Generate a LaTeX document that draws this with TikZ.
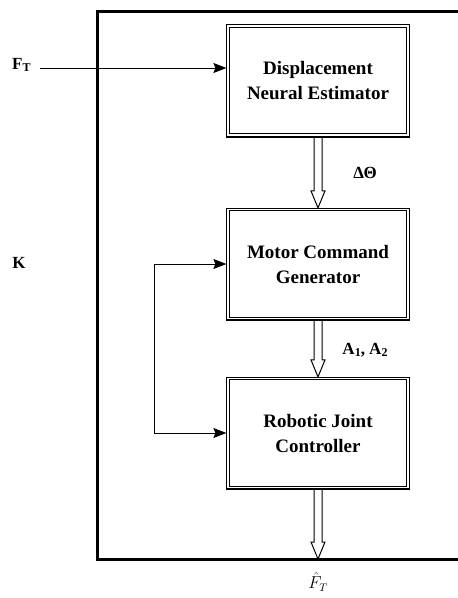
\documentclass[tikz,border=0pt]{standalone}
\usepackage{fontspec}
\setmainfont{Liberation Serif}
\usetikzlibrary{arrows.meta,calc}
\tikzset{
 blockbox/.style={draw, double, double distance=1.6pt, line width=0.8pt, minimum width=180pt, minimum height=109pt, align=center, font=\bfseries\fontsize{19}{25}\selectfont, inner sep=0pt, outer sep=1.6pt},
 sig/.style={line width=1pt},
 tip/.style={-{Stealth[length=13pt,width=10pt,inset=2pt]}},
 hollow/.style={draw, line width=1pt, line join=miter},
 frame/.style={line width=3pt},
 lbl/.style={font=\bfseries\fontsize{17}{20}\selectfont, inner sep=0pt}
}
\newcommand\harrow[2]{\draw[hollow] let \p1=(#1), \p2=(#2) in (\x1-4pt,\y1) -- (\x1-4pt,\y2+17pt) -- (\x1-7pt,\y2+17pt) -- (\x1,\y2) -- (\x1+7pt,\y2+17pt) -- (\x1+4pt,\y2+17pt) -- (\x1+4pt,\y1);}
\newcommand\lowsub[1]{\raisebox{-0.35ex}{\fontsize{12}{12}\selectfont #1}}
\begin{document}
\begin{tikzpicture}[x=1pt,y=-1pt]
\useasboundingbox (0,0) rectangle (458,598);
% frame
\draw[frame] (460,11) -- (97,11) -- (97,559) -- (460,559);
% blocks
\node[blockbox] (dne) at (318,80.5) {Displacement\\Neural Estimator};
\node[blockbox] (mcg) at (318,264) {Motor Command\\Generator};
\node[blockbox] (rjc) at (318,433) {Robotic Joint\\Controller};
\foreach \b in {dne,mcg,rjc}{\draw[line width=1.6pt] ([yshift=-0.4pt]\b.south west) -- ([yshift=-0.4pt]\b.south east);}
% labels
\node[lbl, anchor=west] (ft) at (12,65) {F\lowsub{T}};
\node[lbl] (k) at (19,263) {K};
\node[lbl] (dth) at (365,173) {ΔΘ};
\node[lbl] (aa) at (365,350) {A\lowsub{1}, A\lowsub{2}};
\node[inner sep=1pt, font=\fontsize{16}{18}\selectfont] (fhat) at (318,582) {$\hat{F}_T$};
% signal arrows
\coordinate (fts) at (40,68);
\draw[sig, tip] (fts) -- (fts -| dne.west);
\coordinate (l1) at (154,264);
\coordinate (l2) at (154,433);
\draw[sig, {Stealth[length=13pt,width=10pt,inset=2pt]}-{Stealth[length=13pt,width=10pt,inset=2pt]}] (mcg.west) -- (l1) -- (l2) -- (rjc.west);
% hollow arrows
\coordinate (fout) at (318,559);
\harrow{dne.south}{mcg.north}
\harrow{mcg.south}{rjc.north}
\harrow{rjc.south}{fout}
\end{tikzpicture}
\end{document}
